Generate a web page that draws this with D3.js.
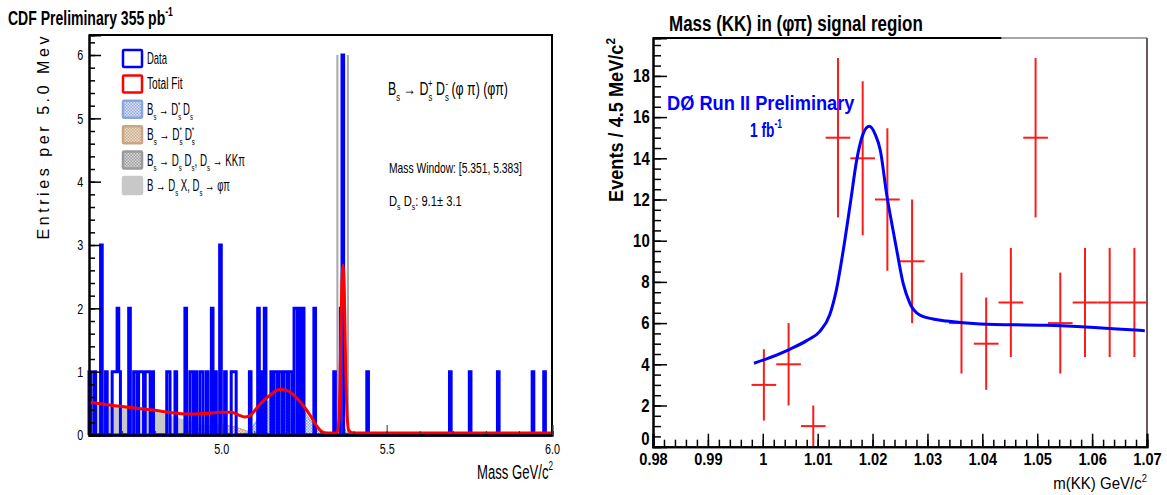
<!DOCTYPE html>
<html><head><meta charset="utf-8">
<script src="https://cdn.jsdelivr.net/npm/d3@7"></script>
<style>body{margin:0;background:#fff}svg{display:block}</style>
</head><body>
<script>
// ---------------- DATA ----------------
// Left panel (CDF): non-empty 5 MeV bins (low edge in GeV) and their entries
const cdfBinMass = [4.600,4.615,4.635,4.650,4.670,4.675,4.680,4.685,4.690,4.720,4.735,4.740,4.750,4.755,4.760,4.770,4.775,4.780,4.790,4.835,4.840,4.860,4.890,4.905,4.910,4.920,4.935,4.940,4.955,4.970,4.980,4.995,5.010,5.030,5.035,5.040,5.085,5.110,5.120,5.130,5.150,5.160,5.165,5.175,5.180,5.190,5.195,5.205,5.210,5.220,5.225,5.235,5.245,5.280,5.340,5.360,5.365,5.440,5.690,5.750,5.835,5.940,5.975];
const cdfBinCount = [1,1,3,1,1,1,1,2,1,2,1,1,1,1,1,1,1,1,1,1,1,1,2,1,1,1,1,1,1,2,1,3,1,1,1,1,1,2,1,2,1,1,1,1,1,1,1,1,1,2,2,2,2,2,1,2,6,1,1,1,1,1,1];
const cdfRange = [4.6, 6.0];
const cdfBinWidth = 0.005;
// Total fit
const fitMass = [4.60,4.65,4.70,4.75,4.80,4.85,4.90,4.95,5.00,5.03,5.055,5.07,5.085,5.10,5.12,5.15,5.175,5.20,5.225,5.25,5.27,5.29,5.305,5.32,5.35,5.356,5.360,5.364,5.368,5.372,5.376,5.380,5.385,5.392,5.40,5.50,6.00];
const fitValue = [0.52,0.48,0.45,0.42,0.39,0.35,0.33,0.34,0.36,0.36,0.31,0.285,0.30,0.38,0.50,0.64,0.72,0.70,0.60,0.45,0.30,0.13,0.05,0.03,0.03,0.25,1.15,2.25,2.68,2.25,1.10,0.35,0.08,0.04,0.03,0.03,0.03];
// Components
const bgXMass = [4.60,4.65,4.70,4.75,4.80,4.85,4.90,4.95,5.00,5.05,5.10];
const bgXValue = [0.50,0.48,0.45,0.42,0.37,0.30,0.23,0.16,0.10,0.04,0.0];
const dsstdsstMass = [4.86,4.92,4.96,5.00,5.04,5.08,5.12];
const dsstdsstValue = [0.0,0.08,0.14,0.16,0.13,0.06,0.0];
const dsstdsMass = [5.06,5.09,5.12,5.15,5.18,5.20,5.23,5.26,5.29,5.32];
const dsstdsValue = [0.0,0.10,0.35,0.58,0.67,0.66,0.52,0.30,0.10,0.0];
const kkpiMass = [5.355,5.362,5.368,5.374,5.381];
const kkpiValue = [0.0,0.10,0.22,0.10,0.0];
const massWindow = [5.351, 5.383];
const cdfXTicks = [5.0, 5.5, 6.0];
const cdfXTickLabels = ["5.0", "5.5", "6.0"];
const cdfYTicks = [0,1,2,3,4,5,6];

// Right panel (D0): m(KK) bins
const kkMass = [1.0002,1.0047,1.0092,1.0137,1.0182,1.0227,1.0272,1.0362,1.0407,1.0452,1.0497,1.0542,1.0587,1.0632,1.0677];
const kkCount = [3,4,1,15,14,12,9,6,5,7,15,6,7,7,7];
const kkError = [1.73,2.0,1.0,3.87,3.74,3.46,3.0,2.45,2.24,2.65,3.87,2.45,2.65,2.65,2.65];
const kkBinWidth = 0.0045;
const kkFitMass = [0.9984,1.0025,1.0050,1.0080,1.0104,1.0122,1.0134,1.0147,1.0160,1.0171,1.0183,1.0194,1.0205,1.0214,1.0226,1.0236,1.0244,1.0256,1.0268,1.0286,1.0310,1.0335,1.0396,1.0517,1.0638,1.0696];
const kkFitValue = [4.05,4.45,4.74,5.15,5.60,6.40,7.60,9.60,11.9,13.9,15.2,15.55,15.15,14.4,12.2,10.7,9.55,7.9,6.96,6.39,6.2,6.1,5.96,5.89,5.73,5.63];
const kkXTickLabels = ["0.98","0.99","1","1.01","1.02","1.03","1.04","1.05","1.06","1.07"];
const kkYTicks = [0,2,4,6,8,10,12,14,16,18];

// ---------------- DRAW ----------------
const SANS = "'Liberation Sans',Arial,Helvetica,sans-serif";
const svg = d3.select("body").append("svg").attr("width",1167).attr("height",495);
const defs = svg.append("defs");
function pat(id, bg, fg) {
  const p = defs.append("pattern").attr("id",id).attr("width",3).attr("height",3).attr("patternUnits","userSpaceOnUse");
  p.append("rect").attr("width",3).attr("height",3).attr("fill",bg);
  p.append("rect").attr("width",1.5).attr("height",1.5).attr("fill",fg);
  p.append("rect").attr("x",1.5).attr("y",1.5).attr("width",1.5).attr("height",1.5).attr("fill",fg);
}
pat("pBlue","#e3eaf8","#8aa5dc");
pat("pBrown","#eee2d4","#c8a684");
pat("pGray","#dcdcdc","#9a9a9a");

// condense text horizontally to the target width (narrow ROOT font)
function fitW(t, target, ax) {
  const w = t.node().getBBox().width;
  if (w > 0) t.attr("transform", `translate(${ax},0) scale(${target/w},1) translate(${-ax},0)`);
  return t;
}
function rich(sel, x, y, parts, size, opts={}) {
  const t = sel.append("text").attr("x",x).attr("y",y).attr("font-size",size)
    .attr("font-family", SANS).attr("fill", opts.fill || "#000");
  if (opts.weight) t.attr("font-weight", opts.weight);
  if (opts.anchor) t.attr("text-anchor", opts.anchor);
  let cur = 0;
  parts.forEach(p => {
    if (typeof p === "string") p = {t:p};
    const off = p.sub ? size*0.32 : p.sup ? -size*0.42 : 0;
    const ts = t.append("tspan").attr("dy", off - cur).text(p.t);
    if (p.sub || p.sup) ts.attr("font-size", size*0.62);
    if (p.dx) ts.attr("dx", p.dx);
    cur = off;
  });
  if (opts.width) fitW(t, opts.width, x);
  return t;
}

// ===== Left panel =====
const xL = d3.scaleLinear(cdfRange, [89, 552]);
const yL = d3.scaleLinear([0, 6.316], [435, 35]);
const gL = svg.append("g");

const area = (xs, vs) => d3.area().x((d,i)=>xL(xs[i])).y0(yL(0)).y1((d,i)=>yL(vs[i])).curve(d3.curveMonotoneX)(xs);
gL.append("path").attr("d", area(bgXMass, bgXValue)).attr("fill","#c8c8c8");
gL.append("path").attr("d", area(dsstdsstMass, dsstdsstValue)).attr("fill","url(#pBrown)").attr("stroke","#c8a684").attr("stroke-width",1);
gL.append("path").attr("d", area(dsstdsMass, dsstdsValue)).attr("fill","url(#pBlue)").attr("stroke","#8aa5dc").attr("stroke-width",1);
gL.append("path").attr("d", area(kkpiMass, kkpiValue)).attr("fill","url(#pGray)").attr("stroke","#999").attr("stroke-width",1);

massWindow.forEach(m => gL.append("line").attr("x1",xL(m)).attr("x2",xL(m)).attr("y1",yL(0)).attr("y2",yL(6))
  .attr("stroke","#a8a8a8").attr("stroke-width",2));

// histogram
const nBins = Math.round((cdfRange[1]-cdfRange[0])/cdfBinWidth);
const counts = new Array(nBins).fill(0);
cdfBinMass.forEach((m,i) => { counts[Math.round((m-cdfRange[0])/cdfBinWidth)] = cdfBinCount[i]; });
const histPts = [[cdfRange[0],0]];
counts.forEach((c,i) => histPts.push([cdfRange[0]+i*cdfBinWidth, c]));
histPts.push([cdfRange[1], counts[nBins-1]]);
histPts.push([cdfRange[1], 0]);
gL.append("path").attr("d", d3.line().x(d=>xL(d[0])).y(d=>yL(d[1])).curve(d3.curveStepAfter)(histPts))
  .attr("fill","none").attr("stroke","#0000ff").attr("stroke-width",3);
gL.append("line").attr("x1",xL(cdfRange[0])).attr("x2",xL(cdfRange[1])).attr("y1",yL(0)).attr("y2",yL(0))
  .attr("stroke","#0000ff").attr("stroke-width",3);

gL.append("path").attr("d", d3.line().x((d,i)=>xL(fitMass[i])).y((d,i)=>yL(fitValue[i])).curve(d3.curveMonotoneX)(fitMass))
  .attr("fill","none").attr("stroke","#ff0000").attr("stroke-width",3);

// frame & axes
gL.append("path").attr("d",`M${xL(cdfRange[0])},${yL(6.316)}H${xL(cdfRange[1])}V${yL(0)}`).attr("fill","none").attr("stroke","#000").attr("stroke-width",2);
const yAxL = d3.axisLeft(yL).tickValues(cdfYTicks).tickSize(-12).tickPadding(8).tickFormat(d3.format("d"));
const yAxLm = d3.axisLeft(yL).tickValues(d3.range(0, 6.3, 0.2)).tickSize(-6).tickFormat("");
[yAxLm, yAxL].forEach(ax=>{
  const g = gL.append("g").attr("transform",`translate(${xL(cdfRange[0])},0)`).call(ax);
  g.select(".domain").attr("stroke","#000").attr("stroke-width",2);
  g.selectAll(".tick line").attr("stroke","#000").attr("stroke-width",1.5);
  g.selectAll("text").attr("font-family",SANS).attr("font-size",15).attr("fill","#000").attr("transform","scale(0.72,1)");
});
const xAxL = d3.axisBottom(xL).tickValues(cdfXTicks).tickSize(-10).tickPadding(8).tickFormat((d,i)=>cdfXTickLabels[i]);
const xAxLm = d3.axisBottom(xL).tickValues(d3.range(4.7,6.0,0.1)).tickSize(-4).tickFormat("");
[xAxLm, xAxL].forEach(ax=>{
  const g = gL.append("g").attr("transform",`translate(0,${yL(0)})`).call(ax);
  g.select(".domain").attr("stroke","#000").attr("stroke-width",2);
  g.selectAll(".tick line").attr("stroke","#333").attr("stroke-width",1);
  g.selectAll("text").attr("font-family",SANS).attr("font-size",15).attr("fill","#000").attr("transform","scale(0.72,1)");
});

// titles
rich(svg, 8, 25, ["CDF Preliminary 355 pb", {t:"-1",sup:true}], 21, {weight:"bold", width:165});
svg.append("text").attr("transform","translate(49,138) rotate(-90)").attr("text-anchor","middle")
  .attr("font-family",SANS).attr("font-size",16).attr("textLength",203).attr("lengthAdjust","spacing").text("Entries per 5.0 Mev");
rich(svg, 553, 479, ["Mass GeV/c", {t:"2",sup:true}], 21, {anchor:"end", width:76});

// legend
const legItems = [
  {parts:["Data"], stroke:"#0000ff", fill:"#fff", w:20},
  {parts:["Total Fit"], stroke:"#ff0000", fill:"#fff", w:36},
  {parts:["B",{t:"s",sub:true}," → D",{t:"s",sub:true},{t:"*",sup:true,dx:-5}," D",{t:"s",sub:true}], stroke:"#8aa5dc", fill:"url(#pBlue)", w:46},
  {parts:["B",{t:"s",sub:true}," → D",{t:"s",sub:true},{t:"*",sup:true,dx:-5}," D",{t:"s",sub:true},{t:"*",sup:true,dx:-5}], stroke:"#c8a684", fill:"url(#pBrown)", w:48},
  {parts:["B",{t:"s",sub:true}," → D",{t:"s",sub:true}," D",{t:"s",sub:true},", D",{t:"s",sub:true}," → KKπ"], stroke:"#9a9a9a", fill:"url(#pGray)", w:98},
  {parts:["B → D",{t:"s",sub:true}," X, D",{t:"s",sub:true}," → φπ"], stroke:"#c8c8c8", fill:"#c8c8c8", w:83}
];
legItems.forEach((it,i)=>{
  const cy = 58.5 + i*25.4;
  gL.append("rect").attr("x",123).attr("y",cy-8.5).attr("width",19).attr("height",17)
    .attr("fill",it.fill).attr("stroke",it.stroke).attr("stroke-width",2.5).attr("rx",1);
  rich(gL, 147, cy+5.5, it.parts, 16, {width: it.w});
});

// annotations
rich(gL, 388, 95, ["B",{t:"s",sub:true}," → D",{t:"s",sub:true},{t:"+",sup:true,dx:-6}," D",{t:"s",sub:true},{t:"-",sup:true,dx:-5}," (φ π) (φπ)"], 18, {width:120});
rich(gL, 389, 173, ["Mass Window: [5.351, 5.383]"], 14, {width:133});
rich(gL, 389, 206, ["D",{t:"s",sub:true}," D",{t:"s",sub:true},":  9.1±  3.1"], 14, {width:73});

// ===== Right panel =====
const xR = d3.scaleLinear([0.98, 1.07], [653, 1147]);
const yR = d3.scaleLinear([0, 19.84], [446.7, 38]);
const gR = svg.append("g");
gR.append("line").attr("x1",653).attr("x2",xR(1.0435)).attr("y1",yR(19.84)).attr("y2",yR(19.84)).attr("stroke","#000").attr("stroke-width",2);
gR.append("line").attr("x1",xR(1.0435)).attr("x2",xR(1.07)).attr("y1",yR(19.84)).attr("y2",yR(19.84)).attr("stroke","#888").attr("stroke-width",1.5);
gR.append("line").attr("x1",xR(1.07)).attr("x2",xR(1.07)).attr("y1",yR(19.84)).attr("y2",yR(0)).attr("stroke","#6a5a5a").attr("stroke-width",2);

const pts = kkMass.map((m,i)=>({m, c:kkCount[i], e:kkError[i]}));
const gp = gR.append("g").attr("stroke","#ff1a1a").attr("stroke-width",2);
pts.forEach(p=>{
  gp.append("line").attr("x1",xR(p.m)).attr("x2",xR(p.m)).attr("y1",yR(Math.max(0,p.c-p.e))).attr("y2",yR(p.c+p.e));
  gp.append("line").attr("x1",xR(p.m-kkBinWidth/2)).attr("x2",xR(p.m+kkBinWidth/2)).attr("y1",yR(p.c)).attr("y2",yR(p.c));
});
gR.append("path").attr("d", d3.line().x((d,i)=>xR(kkFitMass[i])).y((d,i)=>yR(kkFitValue[i])).curve(d3.curveMonotoneX)(kkFitMass))
  .attr("fill","none").attr("stroke","#0000ff").attr("stroke-width",3);

const yAxRm = d3.axisLeft(yR).tickValues(d3.range(0,19.8,0.5)).tickSize(-8).tickFormat("");
const yAxR = d3.axisLeft(yR).tickValues(kkYTicks).tickSize(-14).tickPadding(4).tickFormat(d3.format("d"));
[yAxRm, yAxR].forEach(ax=>{
  const g = gR.append("g").attr("transform","translate(653,0)").call(ax);
  g.select(".domain").attr("stroke","#000").attr("stroke-width",2);
  g.selectAll(".tick line").attr("stroke","#000").attr("stroke-width",1.5);
  g.selectAll("text").attr("font-family",SANS).attr("font-weight","bold").attr("font-size",18).attr("fill","#000").attr("transform","scale(0.83,1)");
  g.selectAll(".tick").filter(d=>d===0).select("text").attr("y",-8);
});
const kkXTicks = kkXTickLabels.map(Number);
const xAxRm = d3.axisBottom(xR).tickValues(d3.range(0.98,1.0701,0.002)).tickSize(-7).tickFormat("");
const xAxR = d3.axisBottom(xR).tickValues(kkXTicks).tickSize(-13).tickPadding(6).tickFormat((d,i)=>kkXTickLabels[i]);
[xAxRm, xAxR].forEach(ax=>{
  const g = gR.append("g").attr("transform",`translate(0,${yR(0)})`).call(ax);
  g.select(".domain").attr("stroke","#000").attr("stroke-width",2);
  g.selectAll(".tick line").attr("stroke","#000").attr("stroke-width",1.5);
  g.selectAll("text").attr("font-family",SANS).attr("font-weight","bold").attr("font-size",17).attr("fill","#000").attr("transform","scale(0.86,1)");
});

// titles
rich(svg, 669, 31, ["Mass (KK) in (φπ) signal region"], 22, {weight:"bold", width:254});
const ylab = svg.append("text").attr("x",0).attr("y",0).attr("text-anchor","middle")
  .attr("font-family",SANS).attr("font-weight","bold").attr("font-size",20);
ylab.append("tspan").text("Events / 4.5 MeV/c");
ylab.append("tspan").attr("dy",-8).attr("font-size",13).text("2");
const ylw = ylab.node().getBBox().width;
ylab.attr("transform",`translate(623,120) rotate(-90) scale(${164/ylw},1)`);
rich(svg, 1147, 489, ["m(KK) GeV/c",{t:"2",sup:true}], 17, {anchor:"end", width:94});
rich(svg, 667, 110, ["DØ Run II Preliminary"], 21, {weight:"bold", fill:"#0000ff", width:188});
rich(svg, 750, 137, ["1 fb",{t:"-1",sup:true}], 21, {weight:"bold", fill:"#0000ff", width:32});
</script>
</body></html>
